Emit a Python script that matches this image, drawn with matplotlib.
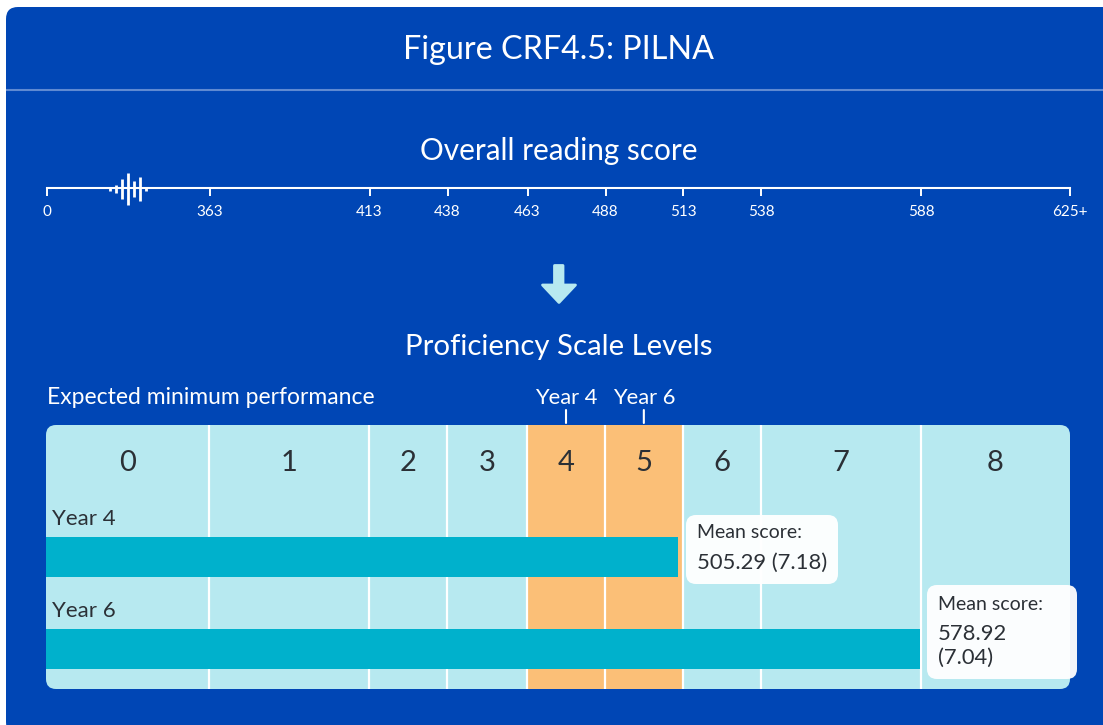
"""Figure CRF4.5: PILNA reading score scale and proficiency levels."""

from __future__ import annotations

import matplotlib

matplotlib.use("Agg")
import matplotlib.pyplot as plt
import numpy as np
from matplotlib.patches import FancyBboxPatch, Polygon

W, H = 1103, 725
BLUE = "#0046b5"
PALE = "#b7e9f0"
ORANGE = "#fbbf77"
TEAL = "#00b1cc"
INK = "#2b3036"

plt.rcParams["font.family"] = ["Lato", "DejaVu Sans"]

# level cut scores and where the source draws them (not equal-interval)
score_edges = [0, 363, 413, 438, 463, 488, 513, 538, 588, 625]
edge_px = [47, 209.5, 369.5, 447.5, 527.5, 605.5, 683, 761, 921, 1070]
tick_labels = ["0", "363", "413", "438", "463", "488", "513", "538", "588", "625+"]
levels = ["0", "1", "2", "3", "4", "5", "6", "7", "8"]
expected_levels = {"Year 4": 4, "Year 6": 5}

years = ["Year 4", "Year 6"]
# bar ends as drawn in the source, read on its axis
bar_ends = [511.4, 587.7]
means = ["505.29", "578.92"]
errors = ["(7.18)", "(7.04)"]

# spike glyph on the ruler, half-heights in px
spike_half = [1.5, 4, 10, 16, 8, 12, 1.5]


def to_px(v):
    return np.interp(v, score_edges, edge_px)


def from_px(v):
    return np.interp(v, edge_px, score_edges)


def add_axes_px(fig, x0, y0, x1, y1, **kw):
    return fig.add_axes([x0 / W, 1 - y1 / H, (x1 - x0) / W, (y1 - y0) / H], **kw)


def level_mid(i: int) -> float:
    return float(from_px((edge_px[i] + edge_px[i + 1]) / 2))


fig = plt.figure(figsize=(W / 100, H / 100), dpi=100, facecolor="white")

# page layer in pixel coords
bg = add_axes_px(fig, 0, 0, W, H, zorder=0)
bg.set_xlim(0, W)
bg.set_ylim(H, 0)
bg.axis("off")
bg.add_patch(
    FancyBboxPatch(
        (6, 7), W + 40, H + 2,
        boxstyle="round,pad=0,rounding_size=12",
        fc=BLUE, ec="none",
    )
)
bg.plot([6, W], [90, 90], color="#5f8ad2", lw=1.5, solid_capstyle="butt")
bg.text(558.5, 50, "Figure CRF4.5: PILNA", color="white", fontsize=23.2, ha="center", va="center")
bg.text(558.5, 151, "Overall reading score", color="white", fontsize=21.4, ha="center", va="center")
bg.text(558.5, 347, "Proficiency Scale Levels", color="white", fontsize=21.2, ha="center", va="center")
bg.text(47, 397, "Expected minimum performance", color="white", fontsize=16.5, ha="left", va="center")

# down arrow
bg.add_patch(
    Polygon(
        [(554.5, 265.5), (563, 265.5), (563, 285), (575.5, 285), (559, 302.5), (542.5, 285), (554.5, 285)],
        closed=True, fc=PALE, ec=PALE, lw=2, joinstyle="round",
    )
)

# ruler
ruler = add_axes_px(fig, 47, 187, 1070, 188, zorder=1)
ruler.set_facecolor("none")
ruler.set_xscale("function", functions=(to_px, from_px))
ruler.set_xlim(0, 625)
ruler.set_ylim(0, 1)
ruler.set_yticks([])
for side in ("top", "left", "right"):
    ruler.spines[side].set_visible(False)
ruler.spines["bottom"].set_color("white")
ruler.spines["bottom"].set_linewidth(1.5)
ruler.set_xticks(score_edges, tick_labels)
ruler.minorticks_off()
ruler.tick_params(axis="x", length=6, width=1.4, color="white", labelcolor="white", labelsize=11, pad=6.5)

spike_x = np.linspace(109.5, 146, len(spike_half))
bg.vlines(spike_x, 189 - np.array(spike_half), 189 + np.array(spike_half), color="white", lw=2)

# proficiency bands, rounded panel corners come from the clip patch
band = add_axes_px(fig, 46, 425, 1070, 689, zorder=1)
band.set_xscale("function", functions=(to_px, from_px))
band.set_xlim(0, 625)
band.set_ylim(689, 425)
band.axis("off")
clip = FancyBboxPatch(
    (46, 425), 1024, 264,
    boxstyle="round,pad=0,rounding_size=10",
    transform=bg.transData, fc="none", ec="none",
)

for i, name in enumerate(levels):
    lo, hi = score_edges[i], score_edges[i + 1]
    colour = ORANGE if i in expected_levels.values() else PALE
    span = band.axvspan(lo, hi, color=colour, lw=0, zorder=1)
    span.set_clip_path(clip)
    band.text(level_mid(i), 463, name, color=INK, fontsize=21, ha="center", va="center", zorder=5)
band.vlines(score_edges[1:-1], 425, 689, color="white", lw=1.6, zorder=2)

bars = band.barh([557, 649], bar_ends, height=40, color=TEAL, lw=0, zorder=3)
for rect in bars:
    rect.set_clip_path(clip)
for y, name in zip([519, 611], years):
    band.text(from_px(53), y, name, color=INK, fontsize=16, ha="left", va="center", zorder=5)

for name, idx in expected_levels.items():
    x = level_mid(idx)
    band.annotate(
        "", xy=(x, 423), xycoords="data", xytext=(x, 410),
        arrowprops=dict(arrowstyle="-", color="white", lw=1.5, shrinkA=0, shrinkB=0),
        annotation_clip=False,
    )
    band.text(x, 398, name, color="white", fontsize=15.8, ha="center", va="center", clip_on=False)

# callouts on top
top = add_axes_px(fig, 0, 0, W, H, zorder=3)
top.set_facecolor("none")
top.set_xlim(0, W)
top.set_ylim(H, 0)
top.axis("off")
top.add_patch(
    FancyBboxPatch((686, 515), 152, 69, boxstyle="round,pad=0,rounding_size=10", fc="white", ec="none", alpha=0.96)
)
top.add_patch(
    FancyBboxPatch((927, 585), 150, 94, boxstyle="round,pad=0,rounding_size=10", fc="white", ec="none", alpha=0.95)
)
top.text(697, 533, "Mean score:", color=INK, fontsize=14, ha="left", va="center")
top.text(697, 563, f"{means[0]} {errors[0]}", color=INK, fontsize=15.8, ha="left", va="center")
top.text(938, 604, "Mean score:", color=INK, fontsize=14, ha="left", va="center")
top.text(938, 634, means[1], color=INK, fontsize=15.8, ha="left", va="center")
top.text(938, 658, errors[1], color=INK, fontsize=15.8, ha="left", va="center")

fig.savefig("out.png", dpi=100)
plt.close(fig)
